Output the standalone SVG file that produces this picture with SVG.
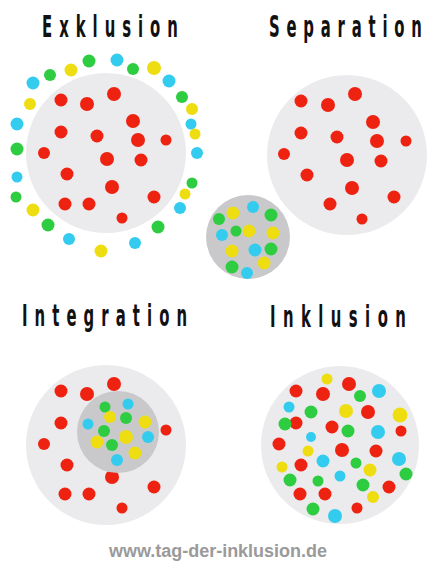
<svg xmlns="http://www.w3.org/2000/svg" width="428" height="561" viewBox="0 0 428 561">
  <style>
    .bg { fill: #ebebed; }
    .mid { fill: #c9c9cb; }
    .r { fill: #ee2211; }
    .g { fill: #2ecc40; }
    .c { fill: #33ccee; }
    .y { fill: #eedd11; }
    .title { font-family: "DejaVu Sans Condensed", "DejaVu Sans", sans-serif; font-weight: bold; font-size: 30px; fill: #111; }
    .url { font-family: "Liberation Sans", Arial, sans-serif; font-weight: bold; font-size: 17.5px; fill: #9a9a9a; }
  </style>
  <rect width="428" height="561" fill="#ffffff"/>

  <!-- Exklusion: majority inside, minorities around the edge -->
  <g id="exklusion">
    <text class="title" transform="translate(42,37) scale(0.55,1)" textLength="247" lengthAdjust="spacing">Exklusion</text>
    <circle class="bg" cx="106" cy="153" r="80"/>
    <g>
      <circle class="r" cx="61" cy="100" r="6.5"/>
      <circle class="r" cx="87" cy="104" r="7"/>
      <circle class="r" cx="114" cy="94" r="7"/>
      <circle class="r" cx="133" cy="121" r="7"/>
      <circle class="r" cx="61" cy="132" r="6.5"/>
      <circle class="r" cx="97" cy="136" r="6.5"/>
      <circle class="r" cx="138" cy="140" r="7"/>
      <circle class="r" cx="166" cy="140" r="5.5"/>
      <circle class="r" cx="44" cy="153" r="6"/>
      <circle class="r" cx="107" cy="159" r="7"/>
      <circle class="r" cx="141" cy="160" r="6.5"/>
      <circle class="r" cx="67" cy="174" r="6.5"/>
      <circle class="r" cx="112" cy="187" r="7"/>
      <circle class="r" cx="154" cy="197" r="6.5"/>
      <circle class="r" cx="65" cy="204" r="6.5"/>
      <circle class="r" cx="89" cy="204" r="6.5"/>
      <circle class="r" cx="122" cy="218" r="5.5"/>
    </g>
    <g>
      <circle class="g" cx="89" cy="61" r="6.5"/>
      <circle class="c" cx="117" cy="60" r="6.5"/>
      <circle class="g" cx="133" cy="69" r="6"/>
      <circle class="y" cx="154" cy="68" r="7"/>
      <circle class="y" cx="71" cy="70" r="6.5"/>
      <circle class="g" cx="50" cy="75" r="6"/>
      <circle class="c" cx="33" cy="83" r="6.5"/>
      <circle class="c" cx="169" cy="81" r="6.5"/>
      <circle class="g" cx="182" cy="97" r="6"/>
      <circle class="y" cx="30" cy="104" r="6"/>
      <circle class="y" cx="192" cy="109" r="6"/>
      <circle class="c" cx="191" cy="124" r="5.5"/>
      <circle class="y" cx="195" cy="134" r="5.5"/>
      <circle class="c" cx="17" cy="124" r="6.5"/>
      <circle class="g" cx="17" cy="149" r="6.5"/>
      <circle class="c" cx="197" cy="153" r="6"/>
      <circle class="c" cx="17" cy="177" r="5.5"/>
      <circle class="g" cx="16" cy="197" r="5.5"/>
      <circle class="g" cx="192" cy="183" r="5.5"/>
      <circle class="y" cx="185" cy="194" r="5.5"/>
      <circle class="c" cx="180" cy="208" r="6"/>
      <circle class="y" cx="33" cy="210" r="6.5"/>
      <circle class="g" cx="48" cy="225" r="6.5"/>
      <circle class="g" cx="158" cy="227" r="6.5"/>
      <circle class="c" cx="69" cy="239" r="6"/>
      <circle class="c" cx="135" cy="243" r="6"/>
      <circle class="y" cx="101" cy="251" r="6.5"/>
    </g>
  </g>

  <!-- Separation: majority circle -->
  <g id="separation">
    <text class="title" transform="translate(269,37) scale(0.55,1)" textLength="278" lengthAdjust="spacing">Separation</text>
    <circle class="bg" cx="347" cy="155" r="80"/>
    <circle class="r" cx="301" cy="101" r="6.5"/>
    <circle class="r" cx="328" cy="105" r="7"/>
    <circle class="r" cx="355" cy="94" r="7"/>
    <circle class="r" cx="373" cy="122" r="7"/>
    <circle class="r" cx="301" cy="133" r="6.5"/>
    <circle class="r" cx="337" cy="137" r="6.5"/>
    <circle class="r" cx="377" cy="141" r="7"/>
    <circle class="r" cx="406" cy="141" r="5.5"/>
    <circle class="r" cx="284" cy="154" r="6"/>
    <circle class="r" cx="347" cy="160" r="7"/>
    <circle class="r" cx="381" cy="161" r="6.5"/>
    <circle class="r" cx="307" cy="175" r="6.5"/>
    <circle class="r" cx="352" cy="188" r="7"/>
    <circle class="r" cx="394" cy="197" r="6.5"/>
    <circle class="r" cx="330" cy="204" r="6.5"/>
    <circle class="r" cx="362" cy="219" r="5.5"/>
  </g>

  <!-- Separation: separate minority circle -->
  <g id="separation-minority">
    <circle class="mid" cx="248" cy="237" r="42"/>
    <circle class="c" cx="253" cy="207" r="6"/>
    <circle class="y" cx="233" cy="213" r="6.5"/>
    <circle class="g" cx="219" cy="219" r="6"/>
    <circle class="g" cx="271" cy="215" r="6.5"/>
    <circle class="c" cx="222" cy="235" r="6"/>
    <circle class="g" cx="236" cy="231" r="5.5"/>
    <circle class="y" cx="249" cy="231" r="6.5"/>
    <circle class="y" cx="273" cy="233" r="6.5"/>
    <circle class="y" cx="232" cy="251" r="6.5"/>
    <circle class="c" cx="255" cy="250" r="6.5"/>
    <circle class="g" cx="271" cy="249" r="6.5"/>
    <circle class="y" cx="264" cy="263" r="6.5"/>
    <circle class="g" cx="232" cy="267" r="6.5"/>
    <circle class="c" cx="247" cy="273" r="6"/>
  </g>

  <!-- Integration: minority circle placed inside the majority circle -->
  <g id="integration">
    <text class="title" transform="translate(22,326) scale(0.55,1)" textLength="300" lengthAdjust="spacing">Integration</text>
    <circle class="bg" cx="106" cy="445" r="80"/>
    <circle class="r" cx="61" cy="391" r="6.5"/>
    <circle class="r" cx="87" cy="394" r="7"/>
    <circle class="r" cx="114" cy="384" r="7"/>
    <circle class="r" cx="61" cy="423" r="6.5"/>
    <circle class="r" cx="166" cy="430" r="5.5"/>
    <circle class="r" cx="44" cy="444" r="6"/>
    <circle class="r" cx="67" cy="465" r="6.5"/>
    <circle class="r" cx="112" cy="477" r="7"/>
    <circle class="r" cx="154" cy="487" r="6.5"/>
    <circle class="r" cx="65" cy="494" r="6.5"/>
    <circle class="r" cx="89" cy="494" r="6.5"/>
    <circle class="r" cx="122" cy="508" r="5.5"/>
    <circle class="mid" cx="118" cy="432" r="41"/>
    <circle class="g" cx="105" cy="407" r="5.5"/>
    <circle class="c" cx="128" cy="404" r="5.5"/>
    <circle class="y" cx="110" cy="417" r="6"/>
    <circle class="g" cx="126" cy="418" r="6"/>
    <circle class="y" cx="145" cy="422" r="6.5"/>
    <circle class="c" cx="88" cy="424" r="5.5"/>
    <circle class="g" cx="104" cy="431" r="6"/>
    <circle class="y" cx="126" cy="437" r="7"/>
    <circle class="c" cx="148" cy="437" r="6"/>
    <circle class="y" cx="97" cy="442" r="6.5"/>
    <circle class="g" cx="112" cy="445" r="6"/>
    <circle class="y" cx="135" cy="453" r="6.5"/>
    <circle class="c" cx="117" cy="460" r="6"/>
  </g>

  <!-- Inklusion: everyone mixed in one circle -->
  <g id="inklusion">
    <text class="title" transform="translate(270,327) scale(0.55,1)" textLength="247" lengthAdjust="spacing">Inklusion</text>
    <circle class="bg" cx="340" cy="445" r="79"/>
    <circle class="y" cx="327" cy="379" r="5.5"/>
    <circle class="r" cx="349" cy="384" r="7"/>
    <circle class="r" cx="296" cy="391" r="6.5"/>
    <circle class="r" cx="323" cy="394" r="7"/>
    <circle class="g" cx="360" cy="396" r="6"/>
    <circle class="c" cx="379" cy="391" r="7"/>
    <circle class="c" cx="289" cy="407" r="5.5"/>
    <circle class="g" cx="311" cy="412" r="6.5"/>
    <circle class="y" cx="346" cy="411" r="7"/>
    <circle class="r" cx="368" cy="412" r="7"/>
    <circle class="y" cx="400" cy="415" r="7.5"/>
    <circle class="r" cx="296" cy="423" r="6.5"/>
    <circle class="g" cx="285" cy="424" r="6.5"/>
    <circle class="r" cx="332" cy="427" r="6.5"/>
    <circle class="g" cx="348" cy="431" r="6.5"/>
    <circle class="c" cx="378" cy="432" r="7"/>
    <circle class="r" cx="401" cy="431" r="5.5"/>
    <circle class="c" cx="311" cy="437" r="5"/>
    <circle class="r" cx="279" cy="444" r="6.5"/>
    <circle class="r" cx="342" cy="450" r="7"/>
    <circle class="r" cx="376" cy="451" r="6.5"/>
    <circle class="y" cx="308" cy="451" r="5.5"/>
    <circle class="c" cx="323" cy="461" r="6.5"/>
    <circle class="g" cx="356" cy="463" r="5.5"/>
    <circle class="y" cx="370" cy="470" r="6.5"/>
    <circle class="r" cx="301" cy="465" r="6.5"/>
    <circle class="c" cx="399" cy="459" r="7"/>
    <circle class="y" cx="282" cy="467" r="5.5"/>
    <circle class="c" cx="340" cy="476" r="5.5"/>
    <circle class="g" cx="406" cy="474" r="6.5"/>
    <circle class="g" cx="290" cy="480" r="6.5"/>
    <circle class="g" cx="318" cy="481" r="5.5"/>
    <circle class="g" cx="363" cy="485" r="6.5"/>
    <circle class="r" cx="389" cy="487" r="6.5"/>
    <circle class="r" cx="300" cy="494" r="6.5"/>
    <circle class="r" cx="325" cy="494" r="6.5"/>
    <circle class="y" cx="373" cy="497" r="6"/>
    <circle class="g" cx="313" cy="509" r="6.5"/>
    <circle class="r" cx="357" cy="508" r="5.5"/>
    <circle class="c" cx="335" cy="516" r="7"/>
  </g>

  <text class="url" x="109" y="557" textLength="218" lengthAdjust="spacingAndGlyphs">www.tag-der-inklusion.de</text>
</svg>
